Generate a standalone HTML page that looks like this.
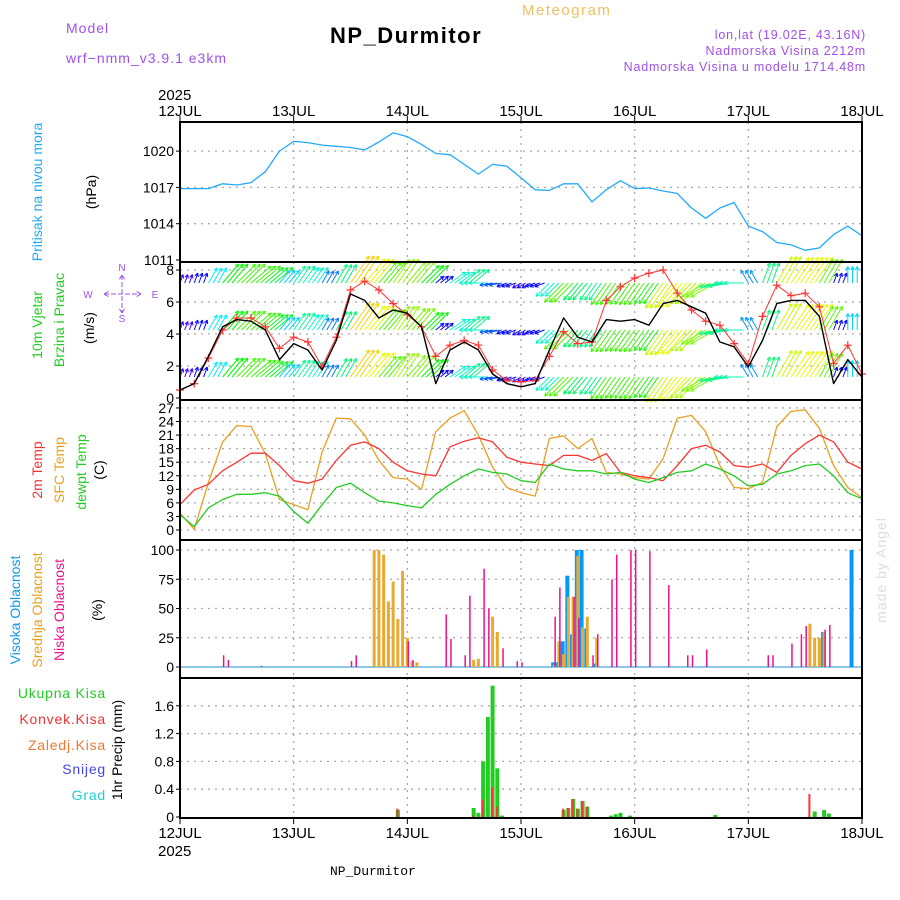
<!DOCTYPE html>
<html><head><meta charset="utf-8"><style>
html,body{margin:0;padding:0;background:#fff;}
svg{display:block;font-family:"Liberation Sans",sans-serif;}
</style></head><body>
<svg id="chart" width="900" height="900" viewBox="0 0 900 900" xmlns="http://www.w3.org/2000/svg">
<rect width="900" height="900" fill="#fff"/>
<g id="header">
<text x="66" y="33" fill="#a050e8" font-size="14" letter-spacing="1">Model</text>
<text x="66" y="63" fill="#a050e8" font-size="14" letter-spacing="1">wrf−nmm_v3.9.1 e3km</text>
<text x="330" y="43" fill="#000" font-size="22" font-weight="bold" letter-spacing="1.5">NP_Durmitor</text>
<text x="522" y="15" fill="#f0c060" font-size="15" letter-spacing="1.5">Meteogram</text>
<text x="866" y="39" fill="#a050e8" font-size="12.5" text-anchor="end" letter-spacing="0.8">lon,lat (19.02E, 43.16N)</text>
<text x="866" y="55" fill="#a050e8" font-size="12.5" text-anchor="end" letter-spacing="0.8">Nadmorska Visina 2212m</text>
<text x="866" y="71" fill="#a050e8" font-size="12.5" text-anchor="end" letter-spacing="0.8">Nadmorska Visina u modelu 1714.48m</text>
<text x="158" y="100" fill="#000" font-size="15">2025</text>
<text x="158" y="856" fill="#000" font-size="15">2025</text>
<text x="330" y="875" fill="#000" font-size="13" font-family="Liberation Mono, monospace">NP_Durmitor</text>
<text transform="translate(886,570) rotate(-90)" fill="#d8e0d8" font-size="14" text-anchor="middle" letter-spacing="1">made by Angel</text>
</g>
<g id="labels" font-size="14">
<text transform="translate(42,192) rotate(-90)" fill="#22aaee" text-anchor="middle">Pritisak na nivou mora</text>
<text transform="translate(96,192) rotate(-90)" fill="#000" text-anchor="middle">(hPa)</text>
<text transform="translate(42,325) rotate(-90)" fill="#22cc22" text-anchor="middle">10m Vjetar</text>
<text transform="translate(64,320) rotate(-90)" fill="#22cc22" text-anchor="middle">Brzina i Pravac</text>
<text transform="translate(94,328) rotate(-90)" fill="#000" text-anchor="middle">(m/s)</text>
<g fill="#a050e8" font-size="10" text-anchor="middle">
<text x="122" y="271">N</text><text x="122" y="322">S</text><text x="88" y="298">W</text><text x="155" y="298">E</text>
<path d="M104,294 H141 M104,294 l5,-3 M104,294 l5,3 M141,294 l-5,-3 M141,294 l-5,3 M122,275 V313 M122,275 l-3,5 M122,275 l3,5 M122,313 l-3,-5 M122,313 l3,-5" stroke="#a050e8" stroke-width="1" fill="none" stroke-dasharray="5,2"/>
</g>
<text transform="translate(42,470) rotate(-90)" fill="#ee3333" text-anchor="middle">2m Temp</text>
<text transform="translate(64,470) rotate(-90)" fill="#e8a020" text-anchor="middle">SFC Temp</text>
<text transform="translate(86,472) rotate(-90)" fill="#22cc22" text-anchor="middle">dewpt Temp</text>
<text transform="translate(104,470) rotate(-90)" fill="#000" text-anchor="middle">(C)</text>
<text transform="translate(20,610) rotate(-90)" fill="#1199ee" text-anchor="middle">Visoka Oblacnost</text>
<text transform="translate(42,610) rotate(-90)" fill="#e8a020" text-anchor="middle">Srednja Oblacnost</text>
<text transform="translate(64,610) rotate(-90)" fill="#ee1188" text-anchor="middle">Niska Oblacnost</text>
<text transform="translate(102,610) rotate(-90)" fill="#000" text-anchor="middle">(%)</text>
<text x="106" y="698" fill="#22cc22" text-anchor="end" letter-spacing="0.8">Ukupna Kisa</text>
<text x="106" y="724" fill="#ee3333" text-anchor="end" letter-spacing="0.8">Konvek.Kisa</text>
<text x="106" y="750" fill="#f07830" text-anchor="end" letter-spacing="0.8">Zaledj.Kisa</text>
<text x="106" y="774" fill="#4444ee" text-anchor="end" letter-spacing="0.8">Snijeg</text>
<text x="106" y="800" fill="#22cccc" text-anchor="end" letter-spacing="0.8">Grad</text>
<text transform="translate(122,750) rotate(-90)" fill="#000" text-anchor="middle">1hr Precip (mm)</text>
</g>
<g id="plot"></g>
</svg>
<script>
// ===== data =====
const dayLabels = ["12JUL","13JUL","14JUL","15JUL","16JUL","17JUL","18JUL"];
const pressTicks = [1011,1014,1017,1020];
const windTicks = [0,2,4,6,8];
const tempTicks = [0,3,6,9,12,15,18,21,24,27];
const cloudTicks = [0,25,50,75,100];
const precipTicks = [0,0.4,0.8,1.2,1.6];
// 3-hourly series (49 points, 12JUL 00h .. 18JUL 00h)
const pressure = [1016.9,1016.9,1016.9,1017.3,1017.2,1017.4,1018.3,1020.0,1020.8,1020.7,1020.5,1020.4,1020.3,1020.1,1020.75,1021.5,1021.2,1020.55,1019.8,1019.7,1018.9,1018.1,1018.9,1018.75,1017.8,1016.8,1016.75,1017.3,1017.3,1015.8,1016.8,1017.55,1016.9,1016.95,1016.7,1016.5,1015.3,1014.45,1015.3,1015.75,1013.8,1013.35,1012.45,1012.25,1011.8,1012.0,1013.1,1013.8,1013.0];
const windSpeed = [0.5,0.9,2.6,4.45,4.9,4.8,4.25,2.4,3.4,3.0,1.75,3.6,6.5,6.1,5.0,5.5,5.3,4.45,0.9,3.0,3.5,3.0,1.5,0.9,0.7,0.9,3.0,5.0,3.8,3.5,4.9,4.8,4.9,4.55,5.9,6.1,5.7,5.3,3.5,3.2,1.95,3.6,5.9,6.1,6.1,5.1,0.9,2.4,1.3];
const windGust = [0.5,0.9,2.5,4.25,5.0,5.0,4.45,3.1,3.8,3.5,1.95,3.8,6.75,7.3,6.75,5.9,5.2,4.45,2.6,3.3,3.6,3.3,1.75,1.1,1.0,1.1,2.6,4.15,3.4,3.5,6.1,6.95,7.5,7.8,8.0,6.55,5.5,4.8,4.55,3.4,2.15,5.1,7.05,6.4,6.55,5.7,2.15,3.3,1.5];
const windDir = [60,60,50,40,35,30,30,40,45,45,50,50,45,40,40,45,40,35,30,25,30,170,180,190,200,190,215,215,220,225,225,225,225,225,225,220,215,200,180,170,110,60,50,45,45,50,60,80,90];
const temp2m = [5.6,8.85,10.1,13.1,15.0,17.0,17.0,14.25,10.9,10.35,11.25,15.4,18.75,19.5,18.0,15.0,13.1,12.4,12.0,18.4,19.65,20.4,19.5,16.1,15.0,14.6,14.25,16.5,16.5,15.4,16.9,12.75,12.0,11.6,10.9,14.25,18.0,18.75,17.25,14.25,13.9,14.6,12.75,16.5,19.1,21.0,19.5,15.0,13.5];
const tempSfc = [3.75,0.15,10.5,19.5,23.1,22.9,16.9,6.75,5.6,4.5,17.25,24.75,24.6,21.0,15.4,11.6,11.25,9.0,21.75,24.75,26.4,21.0,13.9,9.4,8.25,7.5,20.25,20.85,18.0,20.25,12.75,12.4,11.6,11.25,15.75,24.75,25.35,21.75,14.25,9.4,9.15,10.5,22.9,26.25,26.6,22.5,14.25,9.4,7.1];
const tempDew = [3.4,0.75,4.9,6.75,7.9,7.9,8.25,7.5,4.1,1.5,5.6,9.4,10.35,8.25,6.4,6.0,5.4,4.9,7.9,10.1,12.0,13.5,12.75,12.4,10.9,10.5,14.6,13.5,13.1,13.1,12.4,12.75,11.25,10.5,11.6,12.75,13.1,14.6,13.5,12.0,9.75,10.1,12.4,13.1,14.25,14.6,12.0,8.25,6.9];
// cloud cover (hour index, %)
const cloudHighHours = [79,80,81,82,83,84,85,86,88,136,142];
const cloudHighVals  = [4,4,22,78,28,100,100,33,3,30,100];
const cloudMidHours = [41,42,43,44,45,46,47,48,49,50,62,63,66,67,79,80,81,82,83,84,85,86,88,133,134,135,136];
const cloudMidVals  = [100,100,96,56,73,41,82,25,5,4,6,7,43,30,2,22,11,60,60,95,34,43,25,37,25,25,30];
const cloudLowHours = [9,10,17,36,37,48,49,56,57,60,61,64,65,68,71,72,79,80,83,84,87,88,91,92,95,96,99,103,107,108,111,124,125,129,131,132,136,137];
const cloudLowVals  = [10,6,1,5,10,22,6,45,24,10,61,84,50,16,5,4,43,68,60,42,10,28,75,96,100,100,99,70,10,10,15,10,10,20,28,35,32,36];
// precipitation (hour index, mm)
const rainTotHours = [46,62,63,64,65,66,67,68,81,82,83,84,85,86,91,92,93,95,113,134,136,137];
const rainTotVals  = [0.1,0.13,0.06,0.8,1.44,1.89,0.7,0.02,0.1,0.13,0.26,0.12,0.23,0.15,0.02,0.04,0.06,0.02,0.03,0.08,0.1,0.05];
const rainConvHours = [46,62,64,66,67,81,82,83,84,85,86,133];
const rainConvVals  = [0.12,0.02,0.25,0.43,0.15,0.12,0.13,0.26,0.12,0.23,0.15,0.33];

// ===== drawing =====
const NS="http://www.w3.org/2000/svg";
const plot=document.getElementById('plot');
const X0=180,X1=862;
const xDay=d=>X0+d*(X1-X0)/6;
const xHour=h=>xDay(h/24);
const x3=i=>xHour(i*3);
const yP=p=>260-(p-1011)*12.1;
const yW=s=>398-s*16;
const yT=t=>530-t*4.52;
const yC=v=>667-v*1.17;
const yR=m=>817-m*69.5;
function el(tag,attrs,parent){const e=document.createElementNS(NS,tag);for(const k in attrs)e.setAttribute(k,attrs[k]);(parent||plot).appendChild(e);return e;}
const panels=[
 {name:'pressure',top:122,bot:262,ticks:pressTicks,y:yP,fmt:v=>v},
 {name:'wind',top:262,bot:400,ticks:windTicks,y:yW,fmt:v=>v},
 {name:'temperature',top:400,bot:540,ticks:tempTicks,y:yT,fmt:v=>v},
 {name:'cloud',top:540,bot:678,ticks:cloudTicks,y:yC,fmt:v=>v},
 {name:'precip',top:678,bot:818,ticks:precipTicks,y:yR,fmt:v=>v===0?'0':v.toFixed(1)}
];
panels.forEach(p=>{
 const g=el('g',{});
 
 
 for(let d=1;d<6;d++){
  const l=el('line',{x1:xDay(d),x2:xDay(d),y1:p.top,y2:p.bot,stroke:'#aaa','stroke-dasharray':'2,5','stroke-width':1.3},g);
  
  
 }
 p.ticks.forEach(v=>{
  const y=p.y(v);
  if(y>p.top+2&&y<p.bot-2){
   const l=el('line',{x1:X0,x2:X1,y1:y,y2:y,stroke:'#aaa','stroke-dasharray':'2,5','stroke-width':1.3},g);
   
   
  }
  if(y>=p.top-1&&y<=p.bot+1){
   el('line',{x1:X0-4,x2:X0,y1:y,y2:y,stroke:'#000'},g);
   const t=el('text',{x:X0-6,y:y+5,'text-anchor':'end','font-size':14,fill:'#000'},g);
   t.textContent=p.fmt(v);
   
   
  }
 });
});
function line(vals,yf,color,name,w){
 const d=vals.map((v,i)=>(i?'L':'M')+x3(i).toFixed(1)+','+yf(v).toFixed(1)).join(' ');
 const p=el('path',{d:d,fill:'none',stroke:color,'stroke-width':w||1.3,'stroke-linejoin':'round'});
 
 
 return p;
}
// pressure
line(pressure,yP,'#22aaff','pressure-line');
// wind arrows
function windColor(s){const h=Math.max(0,270-s/8*270);return 'hsl('+h+',95%,50%)';}
const rows=[283,330,377];
const wg=el('g',{});


rows.forEach(ry=>{
 windSpeed.forEach((s,i)=>{
  for(let k=0;k<3;k++){
   const x=x3(i)+k*4.7;
   if(x>X1-1)continue;
   const a=(windDir[i]+10)*Math.PI/180, L=7+windSpeed[i]*4;
   const x2=x+Math.cos(a)*L,y2=ry-Math.sin(a)*L;
   const c=windColor(s);
   const a1=a+Math.PI*0.85,a2=a-Math.PI*0.85;
   el('path',{d:`M${x},${ry}L${x2},${y2}M${x2},${y2}l${Math.cos(a1)*4},${-Math.sin(a1)*4}M${x2},${y2}l${Math.cos(a2)*4},${-Math.sin(a2)*4}`,stroke:c,'stroke-width':1,fill:'none'},wg);
  }
 });
});
line(windGust,yW,'#ff3333','wind-gust-line',1);
const pg=el('g',{});


windGust.forEach((v,i)=>{const x=x3(i),y=yW(v);el('path',{d:`M${x-4},${y}H${x+4}M${x},${y-4}V${y+4}`,stroke:'#ff3333','stroke-width':1.2},pg);});
line(windSpeed,yW,'#000','wind-speed-line',1.4);
// temperatures
line(tempSfc,yT,'#e8a020','sfc-temp-line');
line(temp2m,yT,'#ff3333','temp-2m-line');
line(tempDew,yT,'#22cc22','dewpoint-line');
// clouds
el('line',{x1:X0,x2:X1,y1:yC(0),y2:yC(0),stroke:'#8cc8e8','stroke-width':2});
function bars(hours,vals,yf,color,w,off,name){
 hours.forEach((h,i)=>{
  const x=xHour(h)+off, y=yf(vals[i]), y0=yf(0);
  const r=el('rect',{x:x-w/2,y:y,width:w,height:Math.max(0,y0-y),fill:color});
  
  
 });
}
bars(cloudHighHours,cloudHighVals,yC,'#0099ff',4,-1,'cloud-high-bar');
bars(cloudMidHours,cloudMidVals,yC,'#e8aa30',3,0,'cloud-mid-bar');
bars(cloudLowHours,cloudLowVals,yC,'#ee1188',1.5,1,'cloud-low-bar');
// precip
bars(rainTotHours,rainTotVals,yR,'#22cc22',4,0,'rain-total-bar');
bars(rainConvHours,rainConvVals,yR,'#ff3333',2,-0.5,'rain-convective-bar');
// frames
panels.forEach(p=>{const r=el('rect',{x:X0,y:p.top,width:X1-X0,height:p.bot-p.top,fill:'none',stroke:'#000','stroke-width':2});
 
 });
// x labels
dayLabels.forEach((lab,d)=>{
 const x=xDay(d);
 el('line',{x1:x,x2:x,y1:116,y2:122,stroke:'#000'});
 el('line',{x1:x,x2:x,y1:818,y2:824,stroke:'#000'});
 const t=el('text',{x:x,y:116,'text-anchor':'middle','font-size':15,fill:'#000'});
 t.textContent=lab;
 
 
 const b=el('text',{x:x,y:838,'text-anchor':'middle','font-size':15,fill:'#000'});
 b.textContent=lab;
 
 
});
</script>
</body></html>
